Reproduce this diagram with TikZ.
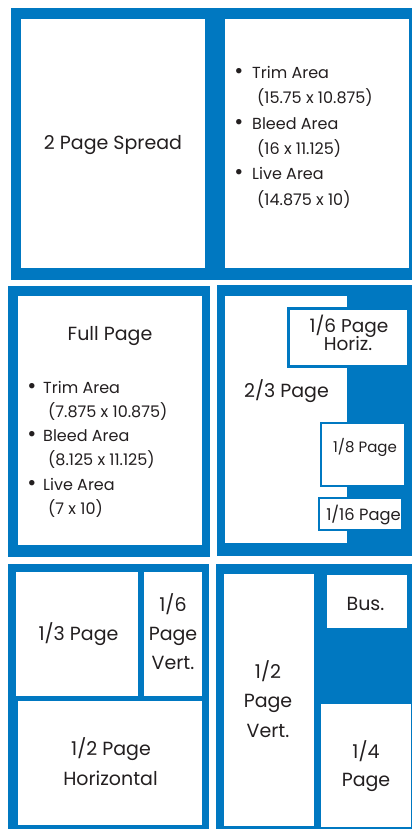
\documentclass[tikz,border=0pt]{standalone}
\usepackage{fontspec}
\setmainfont{Poppins}
\definecolor{pblue}{RGB}{0,120,193}
\definecolor{ink}{RGB}{35,31,32}
\begin{document}
\begin{tikzpicture}[x=1pt,y=-1pt,
  panel/.style={fill=pblue},
  wbox/.style={fill=white, draw=none, inner sep=0pt, outer sep=0pt},
  obox/.style={fill=white, draw=pblue, inner sep=0pt, outer sep=0pt},
  big/.style={text=ink, inner sep=0pt, anchor=base, font=\fontsize{19}{23}\selectfont},
  mid/.style={text=ink, inner sep=0pt, anchor=base, font=\fontsize{18.5}{22}\selectfont},
  small/.style={text=ink, inner sep=0pt, anchor=base, font=\fontsize{15}{18}\selectfont},
  smallb/.style={text=ink, inner sep=0pt, anchor=base, font=\fontsize{16.3}{19}\selectfont},
  bul/.style={text=ink, inner sep=0pt, anchor=base west, font=\fontsize{16}{20}\selectfont},
  dot/.style={text=ink, inner sep=0pt, anchor=base, font=\fontsize{22}{26}\selectfont}]
\useasboundingbox[fill=white] (0,0) rectangle (412,829);

% ---------- top panel: 2 page spread ----------
\fill[panel] (11,8) rectangle (412,280);
\node[wbox, minimum width=184pt, minimum height=249pt] (spreadL) at (113,143.5) {};
\node[wbox, minimum width=184pt, minimum height=249pt] (spreadR) at (317,143.5) {};
\node[big] (tspread) at (113,150) {2 Page Spread};
\node[dot] (b1) at (239,78.5) {•};
\node[bul] (s1) at (252,78.5) {Trim Area};
\node[bul] (s2) at (257,103.8) {(15.75 x 10.875)};
\node[dot] (b2) at (239,129.1) {•};
\node[bul] (s3) at (252,129.1) {Bleed Area};
\node[bul] (s4) at (257,154.4) {(16 x 11.125)};
\node[dot] (b3) at (239,179.7) {•};
\node[bul] (s5) at (252,179.7) {Live Area};
\node[bul] (s6) at (257,205) {(14.875 x 10)};

% ---------- middle left: full page ----------
\fill[panel] (8,286) rectangle (210,557);
\node[wbox, minimum width=184pt, minimum height=249pt] (full) at (110,420.5) {};
\node[big] (tfull) at (110,340) {Full Page};
\node[dot] (f1b) at (32,393) {•};
\node[bul] (f1) at (43,393) {Trim Area};
\node[bul] (f2) at (48,417.3) {(7.875 x 10.875)};
\node[dot] (f3b) at (32,441.6) {•};
\node[bul] (f3) at (43,441.6) {Bleed Area};
\node[bul] (f4) at (48,465.9) {(8.125 x 11.125)};
\node[dot] (f5b) at (32,490.2) {•};
\node[bul] (f5) at (43,490.2) {Live Area};
\node[bul] (f6) at (48,514.5) {(7 x 10)};

% ---------- middle right: 2/3, 1/6 horiz, 1/8, 1/16 ----------
\fill[panel] (217,285) rectangle (412,556);
\node[wbox, minimum width=122pt, minimum height=247pt] (twothird) at (286,419.5) {};
\node[big] (ttwothird) at (286.5,397) {2/3 Page};
\node[obox, line width=2.7pt, minimum width=120.3pt, minimum height=58.3pt] (sixh) at (348.5,337.5) {};
\node[mid] (tsixh1) at (349,332.5) {1/6 Page};
\node[mid] (tsixh2) at (348,350.5) {Horiz.};
\node[obox, line width=2pt, minimum width=84pt, minimum height=63pt] (eighth) at (363,454.5) {};
\node[small] (teighth) at (365,452) {1/8 Page};
\node[obox, line width=2pt, minimum width=83pt, minimum height=32pt] (sixteenth) at (360.5,514) {};
\node[smallb] (tsixteenth) at (363.5,520) {1/16 Page};

% ---------- bottom left: 1/3, 1/6 vert, 1/2 horizontal ----------
\fill[panel] (8,564) rectangle (209,829);
\node[wbox, minimum width=122pt, minimum height=124pt] (third) at (77,634) {};
\node[big] (tthird) at (78.5,640) {1/3 Page};
\node[wbox, minimum width=58pt, minimum height=124pt] (sixv) at (173,634) {};
\node[big] (tsixv1) at (173,611) {1/6};
\node[big] (tsixv2) at (173,640) {Page};
\node[big] (tsixv3) at (173,669) {Vert.};
\node[wbox, minimum width=184pt, minimum height=124pt] (halfh) at (110,763) {};
\node[big] (thalfh1) at (111,755) {1/2 Page};
\node[big] (thalfh2) at (110.5,785) {Horizontal};

% ---------- bottom right: 1/2 vert, business card, 1/4 ----------
\fill[panel] (216,564) rectangle (412,829);
\node[wbox, minimum width=90pt, minimum height=252pt] (halfv) at (269,700) {};
\node[big] (thalfv1) at (268,678) {1/2};
\node[big] (thalfv2) at (268,707.5) {Page};
\node[big] (thalfv3) at (268,737) {Vert.};
\node[wbox, minimum width=80pt, minimum height=53pt] (bus) at (367,601.5) {};
\node[big] (tbus) at (365.5,610) {Bus.};
\node[wbox, minimum width=90pt, minimum height=123pt] (quarter) at (366,765.5) {};
\node[big] (tquarter1) at (366,758) {1/4};
\node[big] (tquarter2) at (366,786) {Page};
\end{tikzpicture}
\end{document}
